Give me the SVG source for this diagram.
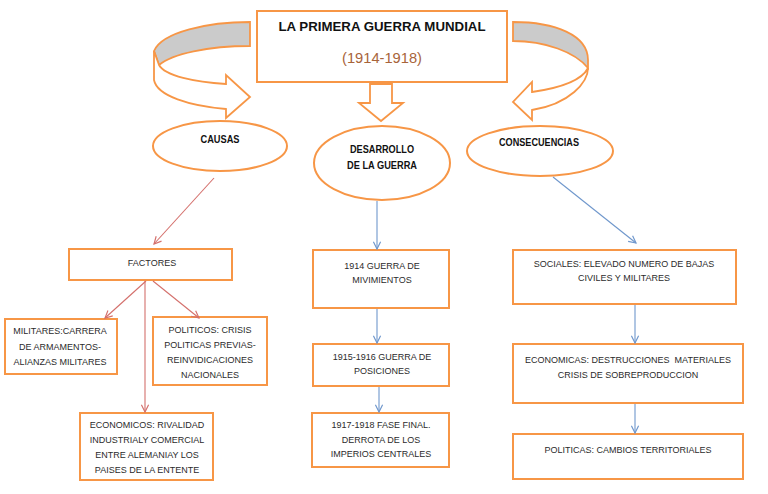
<svg xmlns="http://www.w3.org/2000/svg" width="768" height="494" viewBox="0 0 768 494">
<defs>
<style>
.box{fill:#fff;stroke:#f79646;stroke-width:2}
.ell{fill:#fff;stroke:#f79646;stroke-width:2}
.shape{fill:#fff;stroke:#f79646;stroke-width:1.8;stroke-linejoin:miter}
.band{fill:#cbcbcb;stroke:#f79646;stroke-width:1.8}
.t{font-family:"Liberation Sans",Arial,sans-serif;font-size:9px;fill:#2b2b2b;text-anchor:middle}
.tb{font-family:"Liberation Sans",Arial,sans-serif;font-size:10px;font-weight:bold;fill:#111;text-anchor:middle}
.red{stroke:#d4706c;stroke-width:1.1;fill:none}
.blue{stroke:#6f97cc;stroke-width:1.1;fill:none}
</style>
<marker id="ar" viewBox="0 0 10 10" refX="9" refY="5" markerWidth="9" markerHeight="9" markerUnits="userSpaceOnUse" orient="auto"><path d="M1,1 L9,5 L1,9" fill="none" stroke="#d4706c" stroke-width="1.3"/></marker>
<marker id="ab" viewBox="0 0 10 10" refX="9" refY="5" markerWidth="9" markerHeight="9" markerUnits="userSpaceOnUse" orient="auto"><path d="M1,1 L9,5 L1,9" fill="none" stroke="#6f97cc" stroke-width="1.3"/></marker>
</defs>
<rect width="768" height="494" fill="#fff"/>

<g id="arrows-top">
<path class="band" d="M250,22 C208,22 162,32 154,51 L159,65 C172,54 208,46 250,46 Z"/>
<path class="shape" d="M154,51 L154,80 C157,96 190,106 226,109 L226,118 L250,97 L226,75 L226,84 C195,82 165,76 159,65 Z"/>
<path class="band" d="M513,22 C555,22 588,35 588,60 L588,68 C575,52 545,41 513,41 Z"/>
<path class="shape" d="M588,68 C588,82 570,104 532,110 L532,120 L513,102 L532,82 L532,92 C560,88 582,80 588,68 Z"/>
<path class="shape" d="M370,84 L392,84 L392,103 L403,103 L381,121 L359,103 L370,103 Z"/>
</g>

<g id="title">
<rect class="box" x="257" y="11" width="250" height="71"/>
<text x="382" y="31" style="font-family:'Liberation Sans',Arial,sans-serif;font-size:13px;font-weight:bold;fill:#111;text-anchor:middle" textLength="207" lengthAdjust="spacingAndGlyphs">LA PRIMERA GUERRA MUNDIAL</text>
<text x="382" y="63" style="font-family:'Liberation Sans',Arial,sans-serif;font-size:14px;fill:#a8643a;text-anchor:middle" textLength="80" lengthAdjust="spacingAndGlyphs">(1914-1918)</text>
</g>

<g id="causas">
<ellipse class="ell" cx="220" cy="146" rx="67" ry="25"/>
<text class="tb" x="220" y="143" textLength="39" lengthAdjust="spacingAndGlyphs">CAUSAS</text>
</g>
<g id="desarrollo">
<ellipse class="ell" cx="382" cy="163" rx="68" ry="37"/>
<text class="tb" x="382" y="153" textLength="64" lengthAdjust="spacingAndGlyphs">DESARROLLO</text>
<text class="tb" x="382" y="169" textLength="70" lengthAdjust="spacingAndGlyphs">DE LA GUERRA</text>
</g>
<g id="consecuencias">
<ellipse class="ell" cx="540" cy="151" rx="73" ry="25"/>
<text class="tb" x="539" y="146" textLength="80" lengthAdjust="spacingAndGlyphs">CONSECUENCIAS</text>
</g>

<g id="factores">
<rect class="box" x="69" y="249" width="163" height="31"/>
<text class="t" x="152" y="266">FACTORES</text>
</g>
<g id="militares">
<rect class="box" x="5" y="319" width="112" height="55"/>
<text class="t" x="60" y="334">MILITARES:CARRERA</text>
<text class="t" x="60" y="350">DE ARMAMENTOS-</text>
<text class="t" x="60" y="365">ALIANZAS MILITARES</text>
</g>
<g id="politicos">
<rect class="box" x="153" y="317" width="114" height="68"/>
<text class="t" x="210" y="333">POLITICOS: CRISIS</text>
<text class="t" x="210" y="348">POLITICAS PREVIAS-</text>
<text class="t" x="210" y="363">REINVIDICACIONES</text>
<text class="t" x="210" y="378">NACIONALES</text>
</g>
<g id="economicos">
<rect class="box" x="80" y="413" width="133" height="67"/>
<text class="t" x="147" y="428">ECONOMICOS: RIVALIDAD</text>
<text class="t" x="147" y="443">INDUSTRIALY COMERCIAL</text>
<text class="t" x="147" y="458">ENTRE ALEMANIAY LOS</text>
<text class="t" x="147" y="473">PAISES DE LA ENTENTE</text>
</g>

<g id="fase1914">
<rect class="box" x="313" y="250" width="136" height="58"/>
<text class="t" x="382" y="269">1914 GUERRA DE</text>
<text class="t" x="382" y="283">MIVIMIENTOS</text>
</g>
<g id="fase1915">
<rect class="box" x="313" y="344" width="136" height="42"/>
<text class="t" x="382" y="360">1915-1916 GUERRA DE</text>
<text class="t" x="382" y="374">POSICIONES</text>
</g>
<g id="fase1917">
<rect class="box" x="312" y="413" width="137" height="54"/>
<text class="t" x="381" y="428">1917-1918 FASE FINAL.</text>
<text class="t" x="381" y="443">DERROTA DE LOS</text>
<text class="t" x="381" y="457">IMPERIOS CENTRALES</text>
</g>

<g id="sociales">
<rect class="box" x="513" y="250" width="223" height="54"/>
<text class="t" x="624" y="267">SOCIALES: ELEVADO NUMERO DE BAJAS</text>
<text class="t" x="624" y="281">CIVILES Y MILITARES</text>
</g>
<g id="economicas">
<rect class="box" x="513" y="344" width="230" height="59"/>
<text class="t" x="628" y="363" style="white-space:pre">ECONOMICAS: DESTRUCCIONES  MATERIALES</text>
<text class="t" x="628" y="378">CRISIS DE SOBREPRODUCCION</text>
</g>
<g id="politicas">
<rect class="box" x="513" y="434" width="230" height="45"/>
<text class="t" x="628" y="453">POLITICAS: CAMBIOS TERRITORIALES</text>
</g>

<g id="connectors">
<line class="red" x1="214" y1="178" x2="154" y2="244" marker-end="url(#ar)"/>
<line class="red" x1="146" y1="281" x2="105" y2="318" marker-end="url(#ar)"/>
<line class="red" x1="153" y1="281" x2="199" y2="318" marker-end="url(#ar)"/>
<line class="red" x1="145" y1="281" x2="145" y2="412" marker-end="url(#ar)"/>
<line class="blue" x1="377" y1="201" x2="377" y2="249" marker-end="url(#ab)"/>
<line class="blue" x1="377" y1="309" x2="377" y2="343" marker-end="url(#ab)"/>
<line class="blue" x1="379" y1="387" x2="379" y2="412" marker-end="url(#ab)"/>
<line class="blue" x1="553" y1="177" x2="636" y2="243" marker-end="url(#ab)"/>
<line class="blue" x1="635" y1="305" x2="635" y2="343" marker-end="url(#ab)"/>
<line class="blue" x1="635" y1="404" x2="635" y2="433" marker-end="url(#ab)"/>
</g>
</svg>
